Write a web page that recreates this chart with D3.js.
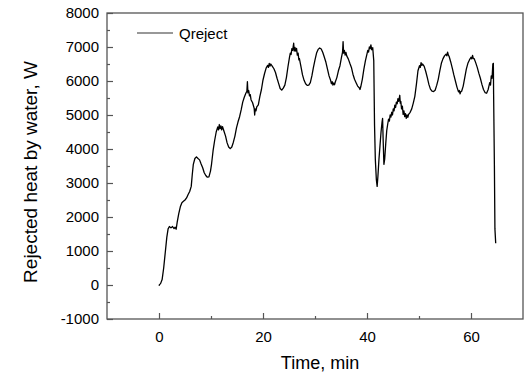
<!DOCTYPE html>
<html>
<head>
<meta charset="utf-8">
<script src="https://cdn.jsdelivr.net/npm/d3@7"></script>
<style>
body { margin: 0; background: #fff; }
text { font-family: Arial, "Liberation Sans", sans-serif; fill: #000; }
</style>
</head>
<body>
<div id="chart"></div>
<script>
var width = 525;
var height = 378;

// [time (min), rejected heat (W)]
var qReject = [
  [0.0, -20], [0.1, 10], [0.3, 40], [0.6, 160], [0.9, 500], [1.2, 950], [1.5, 1400], [1.75, 1650],
  [2.0, 1720], [2.3, 1680], [2.6, 1720], [2.9, 1660], [3.1, 1700], [3.3, 1640], [3.5, 1850], [3.8, 2100],
  [4.1, 2300], [4.4, 2420], [4.7, 2460], [5.0, 2500], [5.3, 2560], [5.6, 2660], [5.9, 2750], [6.2, 2900],
  [6.4, 3250], [6.6, 3550], [6.9, 3720], [7.2, 3770], [7.5, 3720], [7.8, 3680], [8.1, 3560], [8.4, 3450],
  [8.7, 3300], [9.0, 3220], [9.3, 3170], [9.6, 3180], [9.9, 3350], [10.1, 3550], [10.4, 3950], [10.7, 4250],
  [11.0, 4500], [11.3, 4650], [11.45, 4560], [11.6, 4720], [11.75, 4600], [11.9, 4680], [12.05, 4560], [12.2, 4660],
  [12.5, 4520], [12.8, 4380], [13.1, 4180], [13.4, 4060], [13.7, 4010], [14.0, 4060], [14.3, 4200], [14.6, 4380],
  [14.9, 4620], [15.2, 4800], [15.5, 4950], [15.8, 5150], [16.1, 5380], [16.4, 5520], [16.7, 5640], [16.9, 5700],
  [17.0, 5980], [17.1, 5650], [17.25, 5720], [17.4, 5560], [17.55, 5600], [17.7, 5450], [18.0, 5360], [18.3, 5200],
  [18.4, 5000], [18.5, 5180], [18.65, 5120], [18.8, 5240], [19.1, 5300], [19.4, 5550], [19.7, 5750], [20.0, 6030],
  [20.3, 6220], [20.6, 6380], [20.9, 6460], [21.05, 6400], [21.2, 6520], [21.35, 6440], [21.5, 6500], [21.8, 6430],
  [22.1, 6360], [22.4, 6250], [22.7, 6080], [23.0, 5930], [23.3, 5780], [23.6, 5730], [23.9, 5790], [24.2, 5880],
  [24.5, 6100], [24.8, 6420], [25.1, 6700], [25.25, 6820], [25.4, 6780], [25.55, 6950], [25.7, 6900], [25.9, 7110],
  [26.0, 6880], [26.15, 6990], [26.3, 6880], [26.45, 6960], [26.6, 6760], [26.75, 6820], [26.9, 6620], [27.0, 6660],
  [27.3, 6420], [27.6, 6180], [27.9, 6020], [28.2, 5920], [28.5, 5870], [28.8, 5880], [29.1, 5950], [29.4, 6150],
  [29.7, 6400], [30.0, 6620], [30.3, 6820], [30.6, 6930], [30.9, 6970], [31.2, 6940], [31.5, 6840], [31.8, 6700],
  [32.1, 6550], [32.4, 6350], [32.7, 6150], [33.0, 6020], [33.15, 5920], [33.3, 5980], [33.45, 5880], [33.6, 5940],
  [33.75, 5890], [33.9, 5970], [34.2, 6100], [34.5, 6300], [34.8, 6450], [35.1, 6700], [35.3, 6850], [35.4, 7160],
  [35.5, 6820], [35.65, 6900], [35.8, 6760], [35.95, 6840], [36.1, 6740], [36.4, 6650], [36.7, 6520], [37.0, 6400],
  [37.3, 6200], [37.6, 6050], [37.9, 5950], [38.2, 5850], [38.5, 5800], [38.65, 5750], [38.8, 5830], [39.1, 6050],
  [39.4, 6350], [39.7, 6600], [40.0, 6800], [40.15, 6900], [40.3, 6850], [40.45, 7000], [40.6, 6950], [40.75, 7060],
  [40.9, 6920], [41.1, 6980], [41.3, 6600], [41.45, 4700], [41.6, 3700], [41.8, 3100], [41.95, 2900], [42.1, 3200],
  [42.3, 3700], [42.5, 4100], [42.7, 4500], [42.9, 4800], [43.0, 4900], [43.1, 4300], [43.25, 3550], [43.4, 3700],
  [43.6, 4150], [43.8, 4550], [44.0, 4750], [44.15, 4880], [44.3, 4820], [44.45, 5000], [44.6, 4940], [44.75, 5080],
  [44.9, 5000], [45.05, 5180], [45.2, 5120], [45.35, 5290], [45.5, 5220], [45.65, 5380], [45.8, 5330], [45.95, 5480],
  [46.1, 5400], [46.3, 5580], [46.4, 5350], [46.5, 5400], [46.65, 5180], [46.8, 5260], [46.95, 5020], [47.1, 5120],
  [47.25, 4950], [47.4, 5040], [47.55, 4900], [47.7, 5000], [47.85, 4930], [48.0, 5020], [48.3, 5080], [48.6, 5180],
  [48.9, 5350], [49.2, 5550], [49.5, 5900], [49.8, 6300], [50.1, 6450], [50.25, 6400], [50.4, 6540], [50.55, 6460],
  [50.7, 6500], [51.0, 6430], [51.3, 6280], [51.6, 6100], [51.9, 5900], [52.2, 5760], [52.5, 5700], [52.8, 5690],
  [53.1, 5730], [53.4, 5870], [53.7, 6050], [54.0, 6300], [54.3, 6520], [54.6, 6650], [54.9, 6740], [55.2, 6790],
  [55.35, 6740], [55.5, 6850], [55.65, 6760], [55.8, 6720], [56.1, 6560], [56.4, 6380], [56.7, 6180], [57.0, 6000],
  [57.3, 5820], [57.6, 5680], [57.75, 5720], [57.9, 5620], [58.05, 5690], [58.2, 5700], [58.5, 5850], [58.8, 6100],
  [59.1, 6350], [59.4, 6520], [59.7, 6620], [60.0, 6700], [60.15, 6650], [60.3, 6750], [60.45, 6660], [60.6, 6660],
  [60.9, 6540], [61.2, 6400], [61.5, 6230], [61.8, 6080], [62.1, 5900], [62.4, 5750], [62.7, 5660], [63.0, 5640],
  [63.3, 5750], [63.6, 5950], [63.75, 5880], [63.9, 6150], [64.05, 6080], [64.2, 6500], [64.3, 6520], [64.35, 5600],
  [64.5, 3500], [64.6, 1650], [64.75, 1230]
];

var xTicks = [0, 20, 40, 60];
var xMinorTicks = [10, 30, 50];
var yTicks = [-1000, 0, 1000, 2000, 3000, 4000, 5000, 6000, 7000, 8000];
var yMinorTicks = [-500, 500, 1500, 2500, 3500, 4500, 5500, 6500, 7500];

var plotL = 107, plotR = 523, plotT = 13, plotB = 319;

var x = d3.scaleLinear().domain([-10, 70]).range([plotL, plotR]);
var y = d3.scaleLinear().domain([-1000, 8000]).range([plotB, plotT]);

var svg = d3.select("#chart")
    .append("svg")
    .attr("width", width)
    .attr("height", height);

// frame
svg.append("rect")
    .attr("x", plotL).attr("y", plotT)
    .attr("width", plotR - plotL).attr("height", plotB - plotT)
    .attr("fill", "none")
    .attr("stroke", "#555")
    .attr("stroke-width", 1.3);

// plain hyphen for negatives, like the original
var fmt = function(d) { return String(d); };

// x axis, ticks inside
var xAxis = d3.axisBottom(x).tickValues(xTicks).tickSize(-6).tickPadding(12).tickFormat(fmt);
svg.append("g").attr("transform", "translate(0," + plotB + ")").call(xAxis);
var xMinor = d3.axisBottom(x).tickValues(xMinorTicks).tickSize(-3).tickFormat("");
svg.append("g").attr("transform", "translate(0," + plotB + ")").call(xMinor);

// y axis
var yAxis = d3.axisLeft(y).tickValues(yTicks).tickSize(-6).tickPadding(8).tickFormat(fmt);
svg.append("g").attr("transform", "translate(" + plotL + ",0)").call(yAxis);
var yMinor = d3.axisLeft(y).tickValues(yMinorTicks).tickSize(-3).tickFormat("");
svg.append("g").attr("transform", "translate(" + plotL + ",0)").call(yMinor);

svg.selectAll(".domain").remove();
svg.selectAll(".tick line").attr("stroke", "#555").attr("stroke-width", 1.2);
svg.selectAll(".tick text")
    .attr("font-family", null)
    .style("font-size", "15px")
    .attr("fill", "#000");

// the curve
var line = d3.line()
    .x(function(d) { return x(d[0]); })
    .y(function(d) { return y(d[1]); });

svg.append("path")
    .datum(qReject)
    .attr("d", line)
    .attr("fill", "none")
    .attr("stroke", "#000")
    .attr("stroke-width", 1.3)
    .attr("stroke-linejoin", "round");

// legend
svg.append("line")
    .attr("x1", 137).attr("x2", 173)
    .attr("y1", 33).attr("y2", 33)
    .attr("stroke", "#333").attr("stroke-width", 1.2);
svg.append("text")
    .attr("x", 179).attr("y", 38.5)
    .style("font-size", "15px")
    .text("Qreject");

// axis titles
svg.append("text")
    .attr("x", 320).attr("y", 369)
    .attr("text-anchor", "middle")
    .style("font-size", "18px")
    .text("Time, min");

svg.append("text")
    .attr("transform", "translate(37,172) rotate(-90)")
    .attr("text-anchor", "middle")
    .style("font-size", "19px")
    .text("Rejected heat by water, W");
</script>
</body>
</html>
